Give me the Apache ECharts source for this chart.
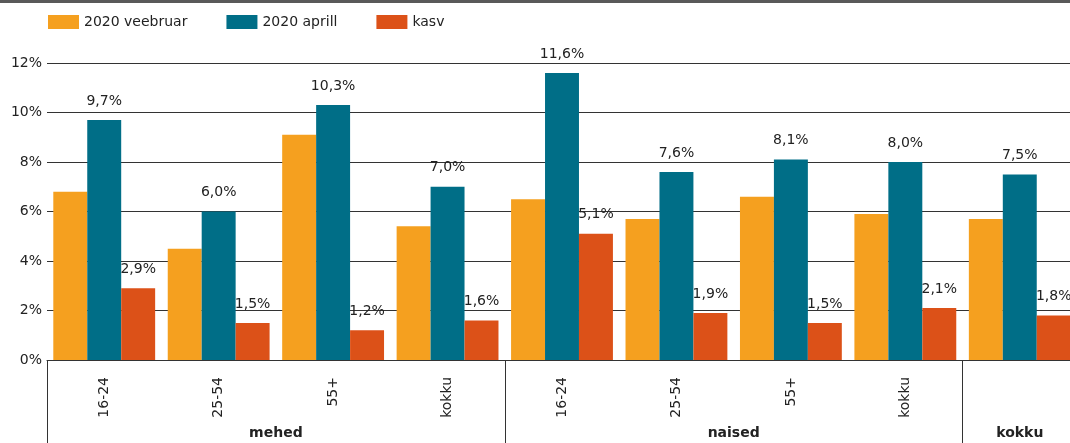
<!DOCTYPE html>
<html>
<head>
<meta charset="utf-8">
<script src="https://cdn.jsdelivr.net/npm/echarts@6/dist/echarts.min.js"></script>
<style>
    html, body { margin: 0; padding: 0; background: #fff; overflow: hidden; }
    #chart { width: 1070px; height: 443px; }
</style>
</head>
<body>
<div id="chart"></div>
<script>
// andmed
var categories = ['16-24', '25-54', '55+', 'kokku', '16-24', '25-54', '55+', 'kokku', '']
var groups = ['mehed', 'naised', 'kokku']
var seriesNames = ['2020 veebruar', '2020 aprill', 'kasv']
var veebruar = [6.8, 4.5, 9.1, 5.4, 6.5, 5.7, 6.6, 5.9, 5.7]
var aprill = [9.7, 6.0, 10.3, 7.0, 11.6, 7.6, 8.1, 8.0, 7.5]
var kasv = [2.9, 1.5, 1.2, 1.6, 5.1, 1.9, 1.5, 2.1, 1.8]
var yTicks = [0, 2, 4, 6, 8, 10, 12]

var colors = ['#f5a01f', '#006e87', '#dc5118']
var fontColor = '#222'
var lineColor = '#333'
var font = 'DejaVu Sans'

function pct(v) {
    return v.toFixed(1).replace('.', ',') + '%'
}

var seriesData = [veebruar, aprill, kasv]
var series = []
for (var i = 0; i < seriesNames.length; i++) {
    series.push({
        name: seriesNames[i],
        type: 'bar',
        xAxisIndex: 0,
        barGap: '0%',
        barCategoryGap: '11%',
        itemStyle: { color: colors[i] },
        label: {
            show: i > 0,
            position: 'top',
            distance: 12,
            color: fontColor,
            fontFamily: font,
            fontSize: 14,
            formatter: function (p) { return pct(p.value) }
        },
        data: seriesData[i]
    })
}

var myChart = echarts.init(document.getElementById('chart'))
var option = {
    animation: false,
    textStyle: { fontFamily: font },
    graphic: [{
        type: 'rect',
        left: 0,
        top: 0,
        shape: { width: 1070, height: 3 },
        style: { fill: '#595959' }
    }],
    legend: {
        left: 43,
        top: 10,
        itemWidth: 31,
        itemHeight: 14,
        itemGap: 39,
        icon: 'rect',
        data: seriesNames,
        textStyle: { color: fontColor, fontSize: 14, fontFamily: font }
    },
    grid: {
        left: 47,
        width: 1030,
        top: 63,
        bottom: 83,
        containLabel: false,
        outerBoundsMode: 'none'
    },
    xAxis: [{
        type: 'category',
        data: categories,
        axisLine: { lineStyle: { color: lineColor, width: 1 } },
        axisTick: { show: false },
        axisLabel: {
            rotate: 90,
            margin: 17,
            color: fontColor,
            fontSize: 14,
            fontFamily: font,
            interval: 0
        },
        splitLine: { show: false }
    }, {
        type: 'value',
        position: 'bottom',
        min: 0,
        max: 9,
        axisLine: { show: false },
        splitLine: { show: false },
        axisTick: {
            show: true,
            length: 83,
            customValues: [0, 4, 8],
            lineStyle: { color: lineColor, width: 1 }
        },
        axisLabel: {
            margin: 66,
            customValues: [2, 6, 8.5],
            verticalAlign: 'top',
            color: fontColor,
            fontSize: 14,
            fontWeight: 'bold',
            fontFamily: font,
            formatter: function (v) {
                if (v === 2) return groups[0]
                if (v === 6) return groups[1]
                return groups[2]
            }
        }
    }],
    yAxis: {
        type: 'value',
        min: yTicks[0],
        max: yTicks[yTicks.length - 1],
        interval: 2,
        axisLine: { show: false },
        axisTick: { show: false },
        axisLabel: {
            margin: 5,
            color: fontColor,
            fontSize: 14,
            fontFamily: font,
            formatter: '{value}%'
        },
        splitLine: { lineStyle: { color: lineColor, width: 1 } }
    },
    series: series
}
myChart.setOption(option)
</script>
</body>
</html>
